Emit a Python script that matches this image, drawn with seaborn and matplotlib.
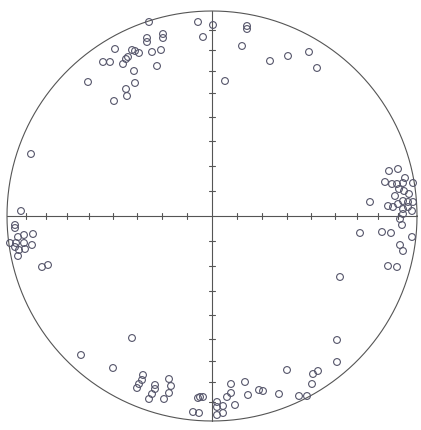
import numpy as np
import pandas as pd
import matplotlib
matplotlib.use("Agg")
import matplotlib.pyplot as plt
import seaborn as sns

# Net radius (data units) and plunge ticks (degrees) on the equal-area net
NET_RADIUS = 205
TICK_PLUNGES = [10, 20, 30, 40, 50, 60, 70, 80]

# Pole positions: east (x) and north (y) offsets from net centre
east = [
    # NW cluster
    -63, -14, 1, -9, -65, -65, -49, -49, -97, -60, -51, -80, -77, -84, -86, -73,
    -109, -102, -89, -55, -78, -124, -77, -86, -85, -98, -181, -191,
    # NE scattered
    35, 35, 30, 58, 76, 97, 105, 13,
    # E cluster
    177, 186, 193, 173, 180, 185, 191, 201, 187, 192, 197, 183, 158, 176, 181, 186,
    191, 196, 201, 191, 196, 200, 191, 188, 190, 148, 170, 179, 200, 188, 191, 176,
    185, 128,
    # SE
    125, 125, 75, 101, 106, 100, 87, 95, 67, 47, 51, 33, 36, 19, 19, 15, 23, 5, 11,
    5, 5, 11,
    # SW
    -80, -131, -99, -69, -70, -73, -75, -57, -57, -60, -63, -43, -41, -43, -48, -12,
    -9, -14, -19, -13,
    # W cluster
    -197, -197, -194, -188, -179, -202, -196, -188, -180, -197, -193, -187, -194,
    -170, -164,
]
north = [
    194, 194, 191, 179, 178, 174, 182, 178, 167, 164, 166, 166, 165, 159, 157, 163,
    154, 154, 152, 150, 145, 134, 133, 127, 120, 115, 62, 5,
    190, 187, 170, 155, 160, 164, 148, 135,
    45, 47, 38, 34, 32, 32, 33, 33, 27, 25, 22, 20, 14, 10, 9, 12,
    15, 14, 14, 7, 9, 5, 2, -3, -9, -17, -16, -17, -21, -29, -35, -50,
    -51, -61,
    -124, -146, -154, -158, -155, -168, -180, -180, -178, -174, -175, -166, -179,
    -168, -177, -181, -189, -186, -190, -191, -199, -197,
    -122, -139, -152, -159, -164, -168, -172, -169, -173, -178, -183, -163, -170,
    -177, -183, -181, -181, -182, -196, -197,
    -9, -12, -21, -19, -18, -27, -27, -27, -29, -31, -34, -33, -40, -51, -49,
]

df = pd.DataFrame({"east": east, "north": north})

sns.set_theme(style="white")
fig = plt.figure(figsize=(4.21, 4.31), dpi=100)
ax = fig.add_axes([0, 0, 1, 1])
ax.set_xlim(-212, 209)
ax.set_ylim(-214, 217)
ax.set_aspect("equal")
ax.axis("off")
fig.patch.set_facecolor("white")

line_col = "#555555"
# primitive circle
t = np.linspace(0, 2 * np.pi, 721)
ax.plot(NET_RADIUS * np.cos(t), NET_RADIUS * np.sin(t), color=line_col, lw=0.8)
# cross axes
ax.plot([-NET_RADIUS, NET_RADIUS], [0, 0], color=line_col, lw=0.8)
ax.plot([0, 0], [-NET_RADIUS, NET_RADIUS], color=line_col, lw=0.8)
# equal-area tick marks
tick_r = [NET_RADIUS * np.sqrt(2) * np.sin(np.radians((90 - p) / 2)) for p in TICK_PLUNGES]
h = 3.2
for r in tick_r:
    for s in (-1, 1):
        ax.plot([s * r, s * r], [-h, h], color=line_col, lw=0.8)
        ax.plot([-h, h], [s * r, s * r], color=line_col, lw=0.8)

sns.scatterplot(data=df, x="east", y="north", ax=ax, marker="o", s=24,
                facecolors="none", edgecolor="#55556a", linewidth=0.8, zorder=3)

fig.savefig("out.png", dpi=100, facecolor="white")
